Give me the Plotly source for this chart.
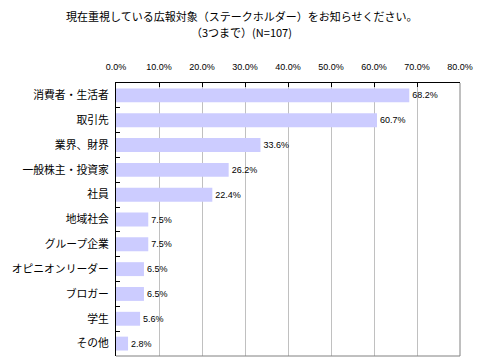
import plotly.graph_objects as go

categories = ["消費者・生活者", "取引先", "業界、財界", "一般株主・投資家", "社員",
              "地域社会", "グループ企業", "オピニオンリーダー", "ブロガー", "学生", "その他"]
values = [68.2, 60.7, 33.6, 26.2, 22.4, 7.5, 7.5, 6.5, 6.5, 5.6, 2.8]
tick_vals = [0, 10, 20, 30, 40, 50, 60, 70, 80]
tick_text = [f"{v:.1f}%" for v in tick_vals]
title_lines = ["現在重視している広報対象（ステークホルダー）をお知らせください。",
               "（3つまで）(N=107)"]

# page body has an 8px margin, so the figure is shrunk by 8px and offsets compensated
W, H = 474, 356
ML, MR, MT, MB = 108, 22, 75, 8
pw, ph = W - ML - MR, H - MT - MB

def px_x(x):
    return (x - 8 - ML) / pw

def px_y(y):
    return (H - MB - (y - 8)) / ph

fig = go.Figure(go.Bar(
    x=values, y=categories, orientation="h",
    marker=dict(color="#ccccff", line=dict(width=0)),
    text=[f"{v:.1f}%" for v in values], textposition="outside",
    textfont=dict(family="Liberation Sans, Arial", size=9, color="black"),
    cliponaxis=False,
))

fig.update_layout(
    width=W, height=H,
    margin=dict(l=ML, r=MR, t=MT, b=MB, autoexpand=False),
    paper_bgcolor="white", plot_bgcolor="white",
    bargap=0.44,
    showlegend=False,
    xaxis=dict(
        side="top", range=[0, 80], tickvals=tick_vals, ticktext=tick_text,
        showgrid=True, gridcolor="#c0c0c0", gridwidth=1,
        showline=True, linecolor="black", linewidth=1,
        ticks="inside", ticklen=4, tickcolor="black",
        tickfont=dict(family="Liberation Sans, Arial", size=9, color="black"),
        ticklabelstandoff=8,
        zeroline=False, fixedrange=True,
    ),
    yaxis=dict(
        categoryorder="array", categoryarray=categories, autorange="reversed",
        showline=True, linecolor="black", linewidth=1,
        ticks="inside", ticklen=4, tickcolor="black", tickson="boundaries",
        tickfont=dict(family="Noto Sans CJK JP", size=10.8, color="black"),
        ticklabelstandoff=4,
        showgrid=False, zeroline=False,
    ),
    shapes=[
        dict(type="line", xref="paper", yref="paper", x0=1, x1=1, y0=0, y1=1,
             line=dict(color="#808080", width=1)),
        dict(type="line", xref="paper", yref="paper", x0=0, x1=1, y0=0, y1=0,
             line=dict(color="#808080", width=1)),
    ],
    annotations=[
        dict(text=title_lines[0], xref="paper", yref="paper", x=px_x(241), y=px_y(15.5),
             xanchor="center", yanchor="middle", showarrow=False,
             font=dict(family="Noto Sans CJK JP", size=11, color="black")),
        dict(text=title_lines[1], xref="paper", yref="paper", x=px_x(241), y=px_y(31.5),
             xanchor="center", yanchor="middle", showarrow=False,
             font=dict(family="Noto Sans CJK JP", size=11, color="black")),
    ],
)

fig.write_html("out.html")
